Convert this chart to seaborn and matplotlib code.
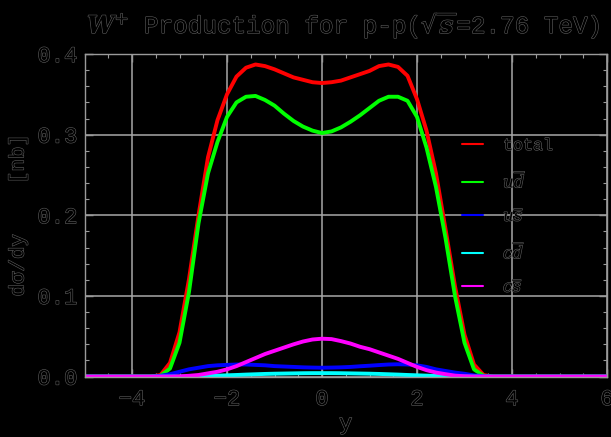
import matplotlib
matplotlib.use("Agg")
import matplotlib.pyplot as plt
import matplotlib.patheffects as pe
from matplotlib.ticker import MultipleLocator
import seaborn as sns
import pandas as pd

# ---------------- data ----------------
rapidity = [-5.0, -3.6, -3.4, -3.2, -3.0, -2.8, -2.6, -2.4, -2.2, -2.0, -1.8, -1.6,
            -1.4, -1.2, -1.0, -0.8, -0.6, -0.4, -0.2, 0.0, 0.2, 0.4, 0.6, 0.8,
            1.0, 1.2, 1.4, 1.6, 1.8, 2.0, 2.2, 2.4, 2.6, 2.8, 3.0, 3.2, 3.4, 3.6, 6.0]

total = [0.0, 0.0, 0.002, 0.017, 0.055, 0.121, 0.200, 0.272, 0.318, 0.350, 0.372, 0.383,
         0.387, 0.385, 0.381, 0.376, 0.371, 0.368, 0.365, 0.364, 0.365, 0.367, 0.371, 0.375,
         0.379, 0.385, 0.387, 0.384, 0.373, 0.344, 0.305, 0.252, 0.183, 0.112, 0.052, 0.015,
         0.002, 0.0, 0.0]

u_dbar = [0.0, 0.0, 0.001, 0.010, 0.042, 0.105, 0.190, 0.252, 0.291, 0.322, 0.340, 0.347,
          0.348, 0.343, 0.336, 0.326, 0.317, 0.310, 0.305, 0.302, 0.304, 0.309, 0.316, 0.324,
          0.333, 0.342, 0.347, 0.347, 0.342, 0.322, 0.284, 0.235, 0.172, 0.100, 0.042, 0.009,
          0.001, 0.0, 0.0]

u_sbar = [0.0, 0.0, 0.001, 0.003, 0.006, 0.009, 0.011, 0.013, 0.014, 0.0145, 0.015, 0.015,
          0.0145, 0.014, 0.013, 0.0125, 0.012, 0.0115, 0.0112, 0.011, 0.0112, 0.0115, 0.012, 0.0128,
          0.0135, 0.0143, 0.015, 0.0153, 0.015, 0.014, 0.012, 0.009, 0.007, 0.005, 0.0035, 0.0015,
          0.0005, 0.0, 0.0]

c_dbar = [0.0, 0.0, 0.0, 0.0, 0.0, 0.0002, 0.0005, 0.0008, 0.0012, 0.0016, 0.002, 0.0025,
          0.0029, 0.0033, 0.0036, 0.0038, 0.004, 0.0042, 0.0043, 0.0043, 0.0043, 0.0042, 0.004, 0.0038,
          0.0036, 0.0033, 0.0029, 0.0025, 0.002, 0.0016, 0.0012, 0.0008, 0.0005, 0.0002, 0.0, 0.0,
          0.0, 0.0, 0.0]

c_sbar = [0.0, 0.0, 0.0, 0.0, 0.0003, 0.001, 0.002, 0.004, 0.006, 0.009, 0.013, 0.018,
          0.023, 0.028, 0.032, 0.036, 0.040, 0.0435, 0.046, 0.047, 0.0465, 0.044, 0.041, 0.037,
          0.034, 0.030, 0.026, 0.022, 0.017, 0.012, 0.008, 0.005, 0.003, 0.0012, 0.0004, 0.0,
          0.0, 0.0, 0.0]

series_names = ["total", "$u\\overline{d}$", "$u\\overline{s}$", "$c\\overline{d}$", "$c\\overline{s}$"]
series_values = [total, u_dbar, u_sbar, c_dbar, c_sbar]
series_colors = ["#ff0000", "#00ff00", "#0000ff", "#00ffff", "#ff00ff"]

x_ticks = [-4, -2, 0, 2, 4, 6]
y_ticks = [0.0, 0.1, 0.2, 0.3, 0.4]

# ---------------- build long-form table ----------------
rows = []
for name, vals in zip(series_names, series_values):
    for xv, yv in zip(rapidity, vals):
        rows.append({"y": xv, "dsdy": yv, "channel": name})
df = pd.DataFrame(rows)

# ---------------- style ----------------
sns.set_theme(style="dark")
plt.rcParams["font.family"] = ["Liberation Mono", "DejaVu Sans Mono", "DejaVu Sans"]
plt.rcParams["mathtext.fontset"] = "dejavuserif"

TXT = "#000000"
OUTLINE = "#606060"
effects = [pe.Stroke(linewidth=0.8, foreground=OUTLINE), pe.Normal()]

W, H = 611, 437
fig = plt.figure(figsize=(W / 100, H / 100), dpi=100, facecolor="black")
ax = fig.add_axes([84.5 / W, 1 - 376.6 / H, (607 - 84.5) / W, (376.6 - 54) / H])
ax.set_facecolor("black")

palette = dict(zip(series_names, series_colors))
sns.lineplot(data=df, x="y", y="dsdy", hue="channel", hue_order=series_names,
             palette=palette, estimator=None, linewidth=2.8, ax=ax, legend=True)

ax.set_xlim(-5, 6)
ax.set_ylim(0, 0.4)
ax.set_xticks(x_ticks)
ax.set_yticks(y_ticks)
ax.set_xticklabels([("\u2212" + str(abs(t))) if t < 0 else str(t) for t in x_ticks])
ax.set_yticklabels([f"{t:.1f}" for t in y_ticks])
ax.xaxis.set_minor_locator(MultipleLocator(0.5))
ax.yaxis.set_minor_locator(MultipleLocator(0.02))

ax.grid(True, which="major", color="#a8a8a8", linewidth=1.1)
ax.set_axisbelow(True)
for s in ax.spines.values():
    s.set_visible(True)
    s.set_color("#9a9a9a")
    s.set_linewidth(1.0)

ax.tick_params(which="both", direction="in", top=True, right=True, bottom=True, left=True,
               colors="#9a9a9a")
ax.tick_params(which="major", length=6, width=1.0, labelsize=16, labelcolor=TXT, pad=5)
ax.tick_params(which="minor", length=3, width=0.8)
ax.tick_params(axis="x", which="major", pad=9)
for lab in ax.get_xticklabels() + ax.get_yticklabels():
    lab.set_path_effects(effects)

ax.set_xlabel("y", fontsize=16, color=TXT)
ax.xaxis.label.set_va("center")
ax.xaxis.set_label_coords(0.5, -(424 - 376.6) / 322.6)
ax.xaxis.label.set_path_effects(effects)
ax.set_ylabel("d\u03c3/dy    [nb]", fontsize=15, color=TXT)
ax.yaxis.label.set_va("center")
ax.yaxis.set_label_coords(-(84.5 - 18) / 522.5, 0.5)
ax.yaxis.label.set_path_effects(effects)

title = fig.text(343 / W, 1 - 25 / H,
                 "$\\mathbfit{W}^{+}$ Production for p-p($\\sqrt{\\mathbfit{s}}$=2.76 TeV)",
                 ha="center", va="center", fontsize=17.5, color=TXT)
title.set_path_effects(effects)

handles, labels = ax.get_legend_handles_labels()
fs = 12
fs_px = fs * 100 / 72
leg = ax.legend(handles, labels, loc="upper left",
                bbox_to_anchor=((462 - 84.5) / 522.5, 1 - (138 - 54) / 322.6),
                frameon=False, fontsize=fs, handlelength=21 / fs_px,
                handletextpad=20 / fs_px, labelspacing=0.98, borderpad=0, borderaxespad=0)
for line in leg.get_lines():
    line.set_linewidth(1.5)
for t in leg.get_texts():
    t.set_color(TXT)
    t.set_path_effects(effects)

fig.savefig("out.png", dpi=100, facecolor="black")
